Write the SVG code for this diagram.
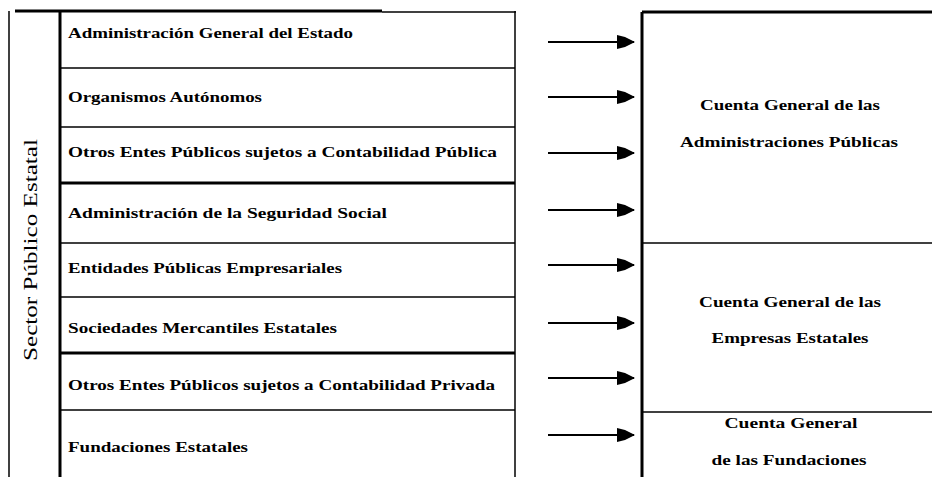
<svg xmlns="http://www.w3.org/2000/svg" width="932" height="477" viewBox="0 0 932 477">
<style>
.t{font-family:"Liberation Serif","Times New Roman",serif;font-size:15px;font-weight:bold;fill:#000}
.c{font-family:"Liberation Serif","Times New Roman",serif;font-size:15px;font-weight:bold;fill:#000;text-anchor:middle}
.v{font-family:"Liberation Serif","Times New Roman",serif;font-size:19px;fill:#000}
.thin{stroke:#000;stroke-width:1.5;fill:none}
.thick{stroke:#000;stroke-width:3;fill:none}
.arr{stroke:#000;stroke-width:2;fill:none}
</style>
<defs>
<marker id="ah" markerUnits="userSpaceOnUse" markerWidth="20" markerHeight="16" refX="17" refY="7" orient="auto">
<path d="M0,0 L8,2 L18,7 L8,12 L0,14 Z" fill="#000"/>
</marker>
</defs>
<rect width="932" height="477" fill="#fff"/>
<g id="grid">
<line class="thin" x1="9" y1="11" x2="9" y2="477"/>
<line class="thick" x1="15" y1="11" x2="382" y2="11"/>
<line class="thin" x1="382" y1="12" x2="516" y2="12"/>
<line class="thick" x1="60" y1="11" x2="60" y2="477"/>
<line class="thin" x1="515" y1="11" x2="515" y2="477"/>
<line class="thin" x1="60" y1="68" x2="515" y2="68"/>
<line class="thin" x1="60" y1="127" x2="515" y2="127"/>
<line class="thick" x1="60" y1="183" x2="515" y2="183"/>
<line class="thin" x1="60" y1="243" x2="515" y2="243"/>
<line class="thin" x1="60" y1="297" x2="515" y2="297"/>
<line class="thick" x1="60" y1="353" x2="515" y2="353"/>
<line class="thin" x1="60" y1="410" x2="515" y2="410"/>
</g>
<g id="sector"><text class="v" transform="translate(37,250) rotate(-90)" text-anchor="middle" textLength="222" lengthAdjust="spacingAndGlyphs">Sector Público Estatal</text></g>
<g id="r1"><text class="t" x="68" y="38" textLength="285" lengthAdjust="spacingAndGlyphs">Administración General del Estado</text></g>
<g id="r2"><text class="t" x="68" y="102" textLength="194" lengthAdjust="spacingAndGlyphs">Organismos Autónomos</text></g>
<g id="r3"><text class="t" x="68" y="157" textLength="429" lengthAdjust="spacingAndGlyphs">Otros Entes Públicos sujetos a Contabilidad Pública</text></g>
<g id="r4"><text class="t" x="68" y="218" textLength="319" lengthAdjust="spacingAndGlyphs">Administración de la Seguridad Social</text></g>
<g id="r5"><text class="t" x="68" y="273" textLength="274" lengthAdjust="spacingAndGlyphs">Entidades Públicas Empresariales</text></g>
<g id="r6"><text class="t" x="68" y="333" textLength="269" lengthAdjust="spacingAndGlyphs">Sociedades Mercantiles Estatales</text></g>
<g id="r7"><text class="t" x="68" y="390" textLength="427" lengthAdjust="spacingAndGlyphs">Otros Entes Públicos sujetos a Contabilidad Privada</text></g>
<g id="r8"><text class="t" x="68" y="452" textLength="180" lengthAdjust="spacingAndGlyphs">Fundaciones Estatales</text></g>
<g id="cuentas-frame">
<line class="thick" x1="642" y1="12" x2="642" y2="477"/>
<line class="thick" x1="642" y1="12" x2="932" y2="12"/>
<line class="thin" x1="642" y1="243" x2="932" y2="243"/>
<line class="thin" x1="642" y1="412" x2="932" y2="412"/>
</g>
<g id="cg-ap">
<text class="c" x="790" y="110" textLength="180" lengthAdjust="spacingAndGlyphs">Cuenta General de las</text>
<text class="c" x="789" y="147" textLength="218" lengthAdjust="spacingAndGlyphs">Administraciones Públicas</text>
</g>
<g id="cg-ee">
<text class="c" x="790" y="307" textLength="182" lengthAdjust="spacingAndGlyphs">Cuenta General de las</text>
<text class="c" x="790" y="343" textLength="157" lengthAdjust="spacingAndGlyphs">Empresas Estatales</text>
</g>
<g id="cg-f">
<text class="c" x="791" y="428" textLength="133" lengthAdjust="spacingAndGlyphs">Cuenta General</text>
<text class="c" x="789" y="465" textLength="155" lengthAdjust="spacingAndGlyphs">de las Fundaciones</text>
</g>
<g id="connectors">
<line class="arr" x1="548" y1="42" x2="634" y2="42" marker-end="url(#ah)"/>
<line class="arr" x1="548" y1="97" x2="634" y2="97" marker-end="url(#ah)"/>
<line class="arr" x1="548" y1="153" x2="634" y2="153" marker-end="url(#ah)"/>
<line class="arr" x1="548" y1="210" x2="634" y2="210" marker-end="url(#ah)"/>
<line class="arr" x1="548" y1="265" x2="634" y2="265" marker-end="url(#ah)"/>
<line class="arr" x1="548" y1="323" x2="634" y2="323" marker-end="url(#ah)"/>
<line class="arr" x1="548" y1="378" x2="634" y2="378" marker-end="url(#ah)"/>
<line class="arr" x1="548" y1="435" x2="634" y2="435" marker-end="url(#ah)"/>
</g>
</svg>
